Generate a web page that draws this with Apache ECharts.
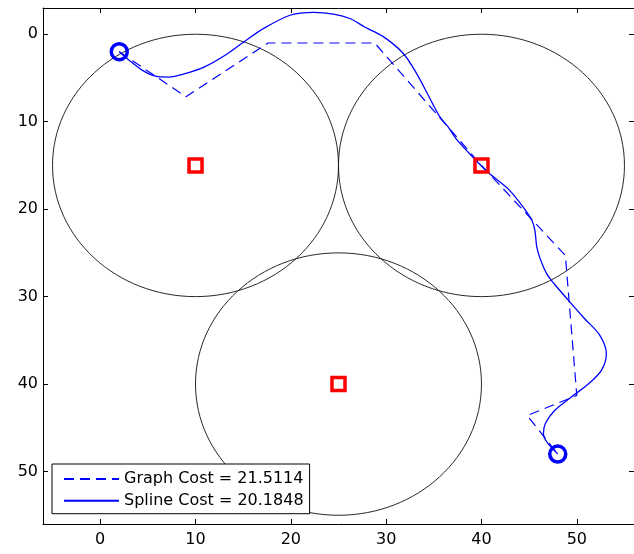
<!DOCTYPE html>
<html>
<head>
<meta charset="utf-8">
<script src="https://cdn.jsdelivr.net/npm/echarts@6/dist/echarts.min.js"></script>
<style>
html,body{margin:0;padding:0;background:#fff;}
#chart{width:634px;height:554px;}
</style>
</head>
<body>
<div id="chart"></div>
<script>
// ---- data ----
var xTicks = [0, 10, 20, 30, 40, 50];
var yTicks = [0, 10, 20, 30, 40, 50];
var circleCenters = [[10, 15], [40, 15], [25, 40]];
var circleRadius = 15;
var endpoints = [[2, 2], [48, 48]];
var graphName = 'Graph Cost = 21.5114';
var splineName = 'Spline Cost = 20.1848';
var graphPath = [
  [2, 2], [9, 7.15], [17.6, 1], [28.8, 1], [40, 15], [48.8, 25.3],
  [50, 41.3], [44.8, 43.6], [48, 48]
];
var splinePath = [
  [2, 2], [3.0, 2.94], [4.4, 4.1], [5.8, 4.8], [7.2, 4.9], [8.9, 4.5],
  [11, 3.7], [13.1, 2.4], [15.1, 0.85], [17.2, -0.7], [20, -2.2],
  [22.4, -2.5], [24.5, -2.3], [26.2, -1.8], [27.8, -0.8], [29.7, 0.27],
  [31.8, 2.2], [33.2, 4.5], [34.4, 6.95], [35.6, 9.4], [36.5, 10.6],
  [37.3, 11.9], [39.05, 14.0], [40.8, 15.9], [42.9, 17.8], [44.6, 20.1],
  [45.3, 21.3], [45.6, 22.4], [45.8, 24.3], [46.2, 25.8], [46.85, 27.4],
  [47.6, 28.5], [49.1, 30.4], [50.8, 32.5], [52.4, 34.4], [53.1, 36.5],
  [52.6, 38.4], [51.2, 40.0], [49.4, 41.5], [47.7, 43.0], [46.7, 44.5],
  [46.5, 45.7], [46.85, 46.6], [48, 48]
];

var FONT = 'DejaVu Sans';
var chart = echarts.init(document.getElementById('chart'), null, {renderer: 'canvas'});

function axisCommon(show) {
  return {
    axisLine: {show: true, onZero: false, lineStyle: {color: '#000', width: 1}},
    axisTick: {show: true, inside: true, length: 5, lineStyle: {color: '#000', width: 1}},
    splitLine: {show: false},
    axisLabel: {show: show, color: '#000', fontFamily: FONT, fontSize: 16}
  };
}

var xb = axisCommon(true);
xb.axisTick.customValues = xTicks;
xb.axisLabel.customValues = xTicks;
xb.axisLabel.margin = 8;
var xt = axisCommon(false);
xt.axisTick.customValues = xTicks;
var yl = axisCommon(true);
yl.axisTick.customValues = yTicks;
yl.axisLabel.customValues = yTicks;
yl.axisLabel.margin = 5;
var yr = axisCommon(false);
yr.axisTick.customValues = yTicks;

var option = {
  animation: false,
  backgroundColor: '#fff',
  textStyle: {fontFamily: FONT},
  grid: {left: 43, top: 8, width: 596.5, height: 516, containLabel: false},
  xAxis: [
    Object.assign({type: 'value', min: -6, max: 56, position: 'bottom'}, xb),
    Object.assign({type: 'value', min: -6, max: 56, position: 'top'}, xt)
  ],
  yAxis: [
    Object.assign({type: 'value', min: -3, max: 56, inverse: true, position: 'left'}, yl),
    Object.assign({type: 'value', min: -3, max: 56, inverse: true, position: 'right'}, yr)
  ],
  legend: {
    data: [graphName, splineName],
    orient: 'vertical',
    left: 52, top: 464,
    padding: [7, 6, 5, 11],
    itemWidth: 55, itemHeight: 16, itemGap: 5.7,
    backgroundColor: '#fff',
    borderColor: '#000', borderWidth: 1,
    itemStyle: {opacity: 0},
    textStyle: {color: '#000', fontFamily: FONT, fontSize: 16, lineHeight: 16},
    selectedMode: false
  },
  series: [
    {
      type: 'custom',
      name: 'circles',
      clip: true,
      silent: true,
      data: circleCenters.map(function (c) { return [c[0], c[1], circleRadius]; }),
      encode: {x: 0, y: 1},
      renderItem: function (params, api) {
        var p = api.coord([api.value(0), api.value(1)]);
        var s = api.size([api.value(2), api.value(2)]);
        return {
          type: 'ellipse',
          shape: {cx: p[0], cy: p[1], rx: s[0], ry: s[1]},
          style: {fill: 'none', stroke: '#111', lineWidth: 0.9}
        };
      },
      z: 1
    },
    {
      type: 'line',
      name: graphName,
      data: graphPath,
      showSymbol: false,
      symbol: 'none',
      lineStyle: {color: '#0000ff', width: 1.2, type: [10, 6]},
      itemStyle: {color: '#0000ff'},
      z: 2
    },
    {
      type: 'line',
      name: splineName,
      data: splinePath,
      smooth: 0.3,
      showSymbol: false,
      symbol: 'none',
      lineStyle: {color: '#0000ff', width: 1.3},
      itemStyle: {color: '#0000ff'},
      z: 3
    },
    {
      type: 'scatter',
      name: 'centers',
      data: circleCenters,
      symbol: 'rect',
      symbolSize: 13,
      itemStyle: {color: 'rgba(255,255,255,0)', borderColor: '#ff0000', borderWidth: 3.5, opacity: 1},
      silent: true,
      z: 4
    },
    {
      type: 'scatter',
      name: 'endpoints',
      data: endpoints,
      symbol: 'circle',
      symbolSize: 16,
      itemStyle: {color: 'rgba(255,255,255,0)', borderColor: '#0000ff', borderWidth: 3.5, opacity: 1},
      silent: true,
      z: 5
    }
  ]
};
chart.setOption(option);
</script>
</body>
</html>
